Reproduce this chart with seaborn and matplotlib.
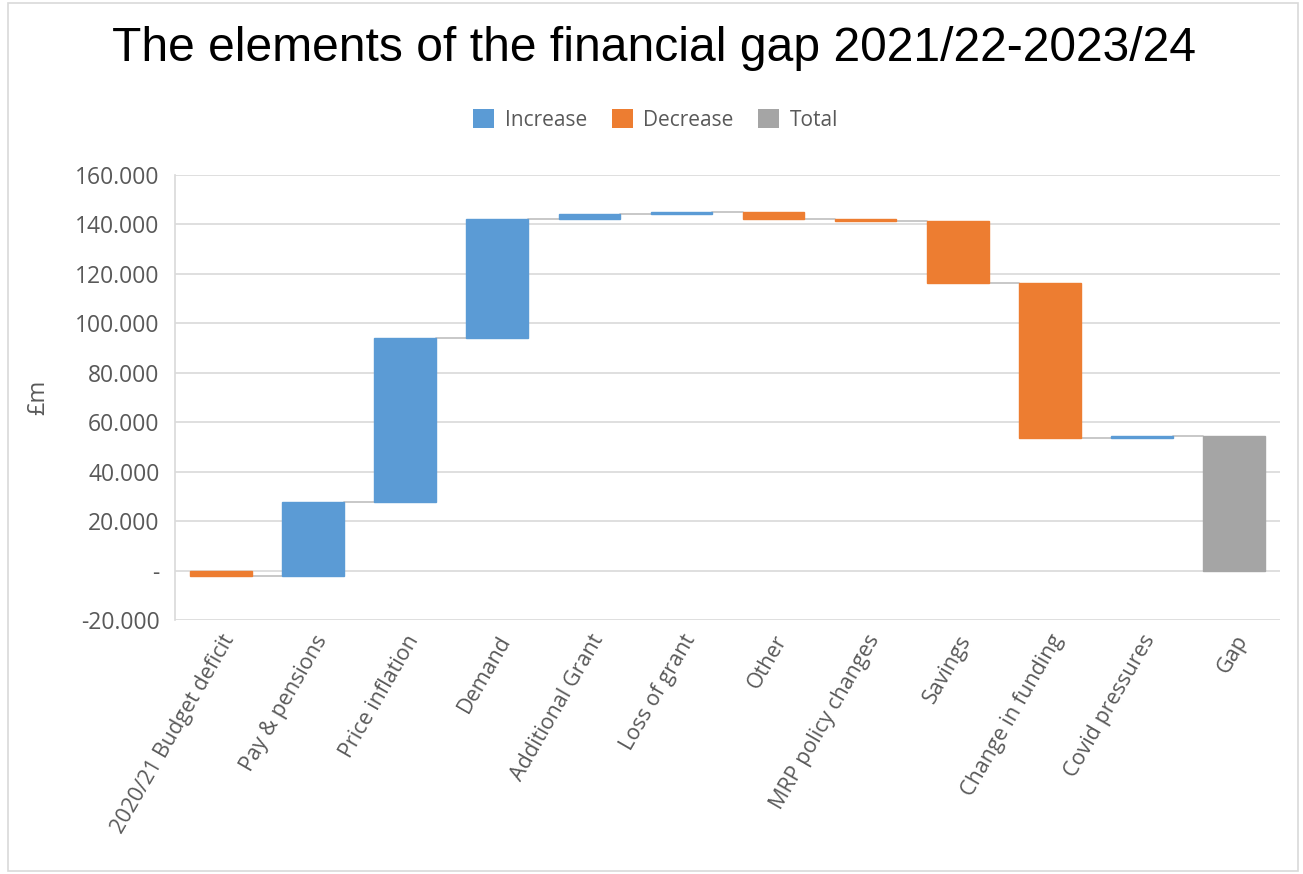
import matplotlib.pyplot as plt
import matplotlib.ticker as mticker
from matplotlib.patches import Rectangle
import numpy as np
import pandas as pd
import seaborn as sns

categories = ['2020/21 Budget deficit', 'Pay & pensions', 'Price inflation', 'Demand',
              'Additional Grant', 'Loss of grant', 'Other', 'MRP policy changes',
              'Savings', 'Change in funding', 'Covid pressures', 'Gap']
changes = [-2.0, 29.8, 66.2, 48.0, 2.2, 0.8, -3.0, -0.6, -25.2, -62.6, 0.8]
kinds = ['Decrease', 'Increase', 'Increase', 'Increase', 'Increase', 'Increase',
         'Decrease', 'Decrease', 'Decrease', 'Decrease', 'Increase', 'Total']

ends = np.cumsum(changes)
starts = np.concatenate([[0], ends[:-1]])
total = ends[-1]
lows = list(np.minimum(starts, ends)) + [0]
highs = list(np.maximum(starts, ends)) + [total]

df = pd.DataFrame({'cat': categories, 'kind': kinds,
                   'low': lows, 'size': np.array(highs) - np.array(lows)})

palette = {'Increase': '#5B9BD5', 'Decrease': '#ED7D31', 'Total': '#A5A5A5'}
grey_txt = '#595959'

sns.set_style('white')
plt.rcParams['font.family'] = ['Open Sans', 'DejaVu Sans']

fig = plt.figure(figsize=(13.03, 8.74), dpi=100)
ax = fig.add_axes([0.1343, 0.2906, 0.8480, 0.5092])

width = 0.67
sns.barplot(data=df, x='cat', y='size', hue='kind', palette=palette, dodge=False,
            width=width, hue_order=['Increase', 'Decrease', 'Total'], ax=ax,
            saturation=1, linewidth=0, zorder=3)

# float each bar up to its starting level
for p in ax.patches:
    h = p.get_height()
    if np.isnan(h) or p.get_width() == 0:
        continue
    i = int(round(p.get_x() + p.get_width() / 2))
    p.set_y(df['low'][i])
    p.set_edgecolor(p.get_facecolor())
    p.set_linewidth(1.0)

# connector lines between bars
level = list(ends)
for i in range(len(categories) - 1):
    ax.plot([i + width / 2, i + 1 - width / 2], [level[i], level[i]],
            color='#BFBFBF', lw=1.2, zorder=2)

ax.set_ylim(-20, 160)
ax.set_xlim(-0.5, len(categories) - 0.5)
ax.yaxis.set_major_locator(mticker.MultipleLocator(20))
ax.yaxis.set_major_formatter(mticker.FuncFormatter(
    lambda v, pos: '-' if abs(v) < 1e-9 else f'{v:.3f}'))
ax.grid(axis='y', color='#D9D9D9', lw=1.2, zorder=0)
ax.set_axisbelow(True)

for s in ['top', 'right', 'bottom']:
    ax.spines[s].set_visible(False)
ax.spines['left'].set_color('#D9D9D9')
ax.spines['left'].set_linewidth(1.2)

ax.tick_params(axis='y', labelsize=16.5, colors=grey_txt, length=5, color='#D9D9D9', pad=6)
ax.tick_params(axis='x', labelsize=15.5, colors=grey_txt, length=0, pad=8)
plt.setp(ax.get_xticklabels(), rotation=60, ha='right', rotation_mode='anchor')

ax.set_xlabel('')
ax.set_ylabel('£m', fontsize=17, color=grey_txt, labelpad=18)

leg = ax.legend(loc='upper center', bbox_to_anchor=(0.435, 1.19), ncol=3, frameon=False,
                fontsize=15, handlelength=1.0, handleheight=1.0, handletextpad=0.5,
                columnspacing=1.2, labelcolor=grey_txt)

fig.text(0.502, 0.945, 'The elements of the financial gap 2021/22-2023/24',
         ha='center', va='center', fontsize=34.6, family='Liberation Sans', color='black')

# chart area border
fig.patches.append(Rectangle((0.006, 0.004), 0.99, 0.992, transform=fig.transFigure,
                             fill=False, edgecolor='#D9D9D9', lw=1.2))

fig.savefig('out.png', dpi=100)
